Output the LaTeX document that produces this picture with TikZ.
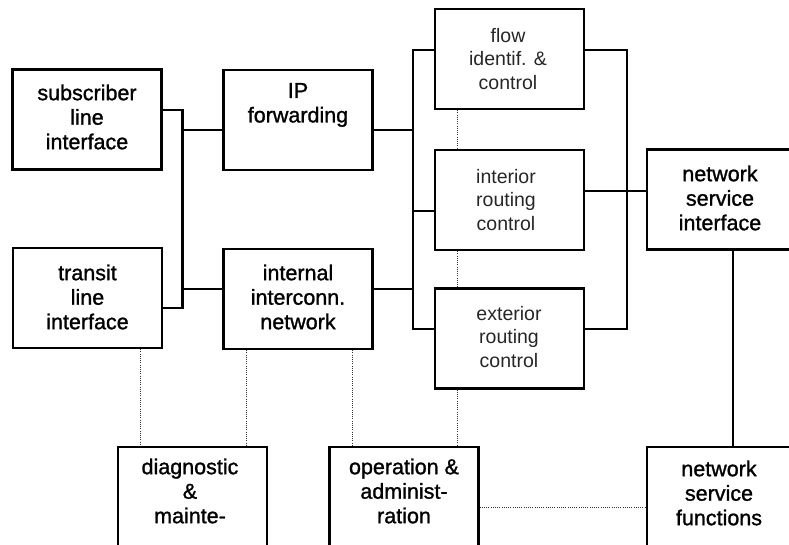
\documentclass[tikz,border=0pt]{standalone}
\usepackage{fontspec}
\setmainfont{Liberation Sans}[BoldFont=Liberation Sans,BoldFeatures={FakeBold=1.2}]
\begin{document}
\begin{tikzpicture}[x=1pt,y=-1pt,
  box/.style={draw,line width=2.2pt,minimum width=149pt,minimum height=100pt,inner sep=0pt},
  bigtxt/.style={align=center,inner sep=0pt,font=\fontsize{21.5}{24.5}\selectfont\bfseries},
  thintxt/.style={align=center,inner sep=0pt,font=\fontsize{19.5}{23.5}\selectfont,text=black!85},
  wire/.style={line width=2.2pt},
  dots/.style={line width=1pt,dash pattern=on 1pt off 1.2pt,black!80}]
\useasboundingbox (0,0) rectangle (789,544);
\clip (0,0) rectangle (789,544);
% boxes
\node[box] (sub) at (87,119.5) {};
\node[box] (ip) at (298,120) {};
\node[box] (tra) at (87.5,298) {};
\node[box] (int) at (298,299) {};
\node[box] (flow) at (509.5,59) {};
\node[box] (inr) at (509.5,200) {};
\node[box] (ext) at (509.5,338.5) {};
\node[box] (nsi) at (721.5,199.5) {};
\node[box] (diag) at (192.5,497) {};
\node[box] (op) at (404,497) {};
\node[box] (nsf) at (721.5,497) {};
% texts
\node[bigtxt] (subt) at (87,117) {subscriber\\line\\interface};
\node[bigtxt] (ipt) at (298,105) {IP\\forwarding};
\node[bigtxt] (trat) at (87.5,297) {transit\\line\\interface};
\node[bigtxt] (intt) at (298,297) {internal\\interconn.\\network};
\node[thintxt] (flowt) at (508,59) {flow\\identif. \&\\control};
\node[thintxt] (inrt) at (506,200) {interior\\routing\\control};
\node[thintxt] (extt) at (509,337) {exterior\\routing\\control};
\node[bigtxt] (nsit) at (720,198) {network\\service\\interface};
\node[bigtxt] (diagt) at (190,491) {diagnostic\\\&\\mainte-};
\node[bigtxt] (opt) at (404,491) {operation \&\\administ-\\ration};
\node[bigtxt] (nsft) at (719,493) {network\\service\\functions};
% left bus
\coordinate (la) at (182.5,110);
\coordinate (lb) at (182.5,308);
\coordinate (lc) at (182.5,130);
\coordinate (ld) at (182.5,289);
\draw[wire] (sub.east |- la) -- (la) -- (lb) -- (tra.east |- lb);
\draw[wire] (lc) -- (ip.west |- lc);
\draw[wire] (ld) -- (int.west |- ld);
% middle bus
\coordinate (ma) at (413,50);
\coordinate (mb) at (413,329);
\coordinate (mc) at (413,130);
\coordinate (md) at (413,211);
\coordinate (me) at (413,289);
\draw[wire] (flow.west |- ma) -- (ma) -- (mb) -- (ext.west |- mb);
\draw[wire] (ip.east |- mc) -- (mc);
\draw[wire] (md) -- (inr.west |- md);
\draw[wire] (int.east |- me) -- (me);
% right bus
\coordinate (ra) at (627,50);
\coordinate (rb) at (627,329);
\coordinate (rc) at (627,191);
\draw[wire] (flow.east |- ra) -- (ra) -- (rb) -- (ext.east |- rb);
\draw[wire] (inr.east |- rc) -- (nsi.west |- rc);
\coordinate (va) at (733,0);
\draw[wire] (nsi.south -| va) -- (nsf.north -| va);
% dotted links
\coordinate (da) at (457,0);
\draw[dots] (flow.south -| da) -- (inr.north -| da);
\draw[dots] (inr.south -| da) -- (ext.north -| da);
\draw[dots] (ext.south -| da) -- (op.north -| da);
\coordinate (db) at (140,0);
\draw[dots] (tra.south -| db) -- (diag.north -| db);
\coordinate (dc) at (246,0);
\draw[dots] (int.south -| dc) -- (diag.north -| dc);
\coordinate (dd) at (352,0);
\draw[dots] (int.south -| dd) -- (op.north -| dd);
\coordinate (de) at (0,507);
\draw[dots] (op.east |- de) -- (nsf.west |- de);
\end{tikzpicture}
\end{document}
